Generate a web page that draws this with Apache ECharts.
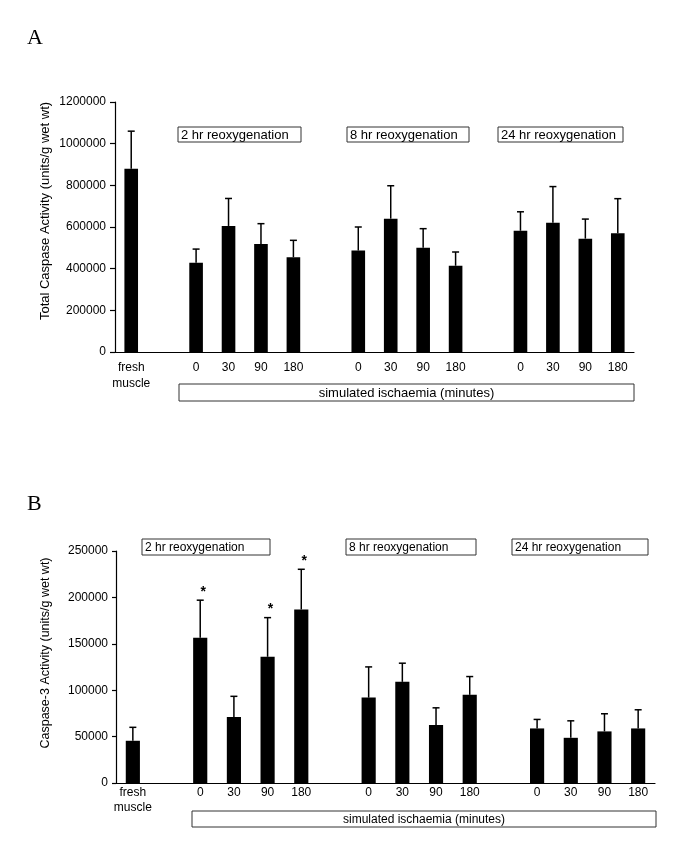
<!DOCTYPE html>
<html>
<head>
<meta charset="utf-8">
<script src="https://cdn.jsdelivr.net/npm/echarts@6/dist/echarts.min.js"></script>
<style>
html,body{margin:0;padding:0;background:#fff;}
#chart{width:685px;height:847px;}
</style>
</head>
<body>
<div id="chart"></div>
<script>
// ---- data ----
const categories = ['fresh\nmuscle', '', '0', '30', '90', '180', '', '0', '30', '90', '180', '', '0', '30', '90', '180'];
const totalCaspase = [880000, null, 428000, 605000, 518000, 455000, null, 487000, 640000, 500000, 414000, null, 582000, 620000, 544000, 570000];
const totalCaspaseErr = [180000, null, 66000, 132000, 98000, 81000, null, 113000, 158000, 92000, 66000, null, 91000, 174000, 94000, 166000];
const caspase3 = [45500, null, 156500, 71000, 136000, 187000, null, 92000, 109000, 62500, 95000, null, 58800, 48700, 55600, 58800];
const caspase3Err = [14500, null, 40500, 22400, 42200, 43300, null, 33100, 20100, 18500, 19700, null, 9700, 18300, 19000, 20100];
const caspase3Sig = [false, false, true, false, true, true, false, false, false, false, false, false, false, false, false, false];
const groupLabels = ['2 hr reoxygenation', '8 hr reoxygenation', '24 hr reoxygenation'];
const xTitle = 'simulated ischaemia (minutes)';
const yTitleA = 'Total Caspase Activity (units/g wet wt)';
const yTitleB = 'Caspase-3 Activity (units/g wet wt)';

const FONT = 'Liberation Sans, Arial, sans-serif';

function errData(means, errs, sig) {
  const out = [];
  means.forEach((m, i) => {
    if (m != null) out.push([i, m, errs[i], sig && sig[i] ? 1 : 0]);
  });
  return out;
}

function errRender(params, api) {
  const i = api.value(0), m = api.value(1), e = api.value(2), s = api.value(3);
  const p0 = api.coord([i, m]);
  const p1 = api.coord([i, m + e]);
  const children = [
    {type: 'line', shape: {x1: p0[0], y1: p0[1], x2: p1[0], y2: p1[1]}, style: {stroke: '#000', lineWidth: 1.5}},
    {type: 'line', shape: {x1: p1[0] - 3.5, y1: p1[1], x2: p1[0] + 3.5, y2: p1[1]}, style: {stroke: '#000', lineWidth: 1.5}}
  ];
  if (s) {
    children.push({type: 'text', style: {text: '*', x: p1[0] + 3, y: p1[1] - 1, align: 'center', verticalAlign: 'bottom', font: 'bold 14px ' + FONT, fill: '#000'}});
  }
  return {type: 'group', children: children};
}

const axisLineStyle = {color: '#000', width: 1.2};
const plainNum = v => String(v);

function box(x, y, w, h, text, fontSize, align) {
  return [
    {type: 'rect', shape: {x: x, y: y, width: w, height: h}, style: {fill: '#fff', stroke: '#333', lineWidth: 1}},
    {type: 'text', style: {
      text: text,
      x: align === 'center' ? x + w / 2 : x + 3,
      y: y + h / 2 + 0.5,
      align: align === 'center' ? 'center' : 'left',
      verticalAlign: 'middle',
      font: fontSize + 'px ' + FONT,
      fill: '#000'
    }}
  ];
}

const chart = echarts.init(document.getElementById('chart'), null, {renderer: 'canvas'});
const option = {
  animation: false,
  backgroundColor: '#fff',
  textStyle: {fontFamily: FONT},
  grid: [
    {left: 115, right: 51, top: 102, bottom: 495},
    {left: 116, right: 30, top: 551, bottom: 64}
  ],
  xAxis: [
    {type: 'category', gridIndex: 0, data: categories,
     axisLine: {lineStyle: axisLineStyle},
     axisTick: {length: 5, lineStyle: axisLineStyle},
     axisLabel: {interval: 0, color: '#000', fontSize: 12, margin: 8, lineHeight: 16, fontFamily: FONT}},
    {type: 'category', gridIndex: 1, data: categories,
     axisLine: {lineStyle: axisLineStyle},
     axisTick: {length: 4, lineStyle: axisLineStyle},
     axisLabel: {interval: 0, color: '#000', fontSize: 12, margin: 2, lineHeight: 15, fontFamily: FONT}}
  ],
  yAxis: [
    {type: 'value', gridIndex: 0, min: 0, max: 1200000, interval: 200000,
     splitLine: {show: false},
     axisLine: {show: true, lineStyle: axisLineStyle},
     axisTick: {show: true, length: 5, lineStyle: axisLineStyle},
     axisLabel: {color: '#000', fontSize: 12, margin: 9, fontFamily: FONT, formatter: plainNum}},
    {type: 'value', gridIndex: 1, min: 0, max: 250000, interval: 50000,
     splitLine: {show: false},
     axisLine: {show: true, lineStyle: axisLineStyle},
     axisTick: {show: true, length: 4, lineStyle: axisLineStyle},
     axisLabel: {color: '#000', fontSize: 12, margin: 8, fontFamily: FONT, formatter: plainNum}}
  ],
  series: [
    {type: 'bar', xAxisIndex: 0, yAxisIndex: 0, data: totalCaspase, barWidth: '42%', itemStyle: {color: '#000'}},
    {type: 'custom', xAxisIndex: 0, yAxisIndex: 0, data: errData(totalCaspase, totalCaspaseErr), renderItem: errRender, z: 3},
    {type: 'bar', xAxisIndex: 1, yAxisIndex: 1, data: caspase3, barWidth: '42%', itemStyle: {color: '#000'}},
    {type: 'custom', xAxisIndex: 1, yAxisIndex: 1, data: errData(caspase3, caspase3Err, caspase3Sig), renderItem: errRender, z: 3}
  ],
  graphic: [
    {type: 'text', style: {text: 'A', x: 27, y: 27, font: '22px Liberation Serif, Times New Roman, serif', fill: '#000'}},
    {type: 'text', style: {text: 'B', x: 27, y: 493, font: '22px Liberation Serif, Times New Roman, serif', fill: '#000'}},
    {type: 'text', rotation: Math.PI / 2, x: 45, y: 211,
     style: {text: yTitleA, x: 0, y: 0, align: 'center', verticalAlign: 'middle', font: '13px ' + FONT, fill: '#000'}},
    {type: 'text', rotation: Math.PI / 2, x: 46, y: 653,
     style: {text: yTitleB, x: 0, y: 0, align: 'center', verticalAlign: 'middle', font: '12.5px ' + FONT, fill: '#000'}},
    ...box(178, 127, 123, 15, groupLabels[0], 13, 'left'),
    ...box(347, 127, 122, 15, groupLabels[1], 13, 'left'),
    ...box(498, 127, 125, 15, groupLabels[2], 13, 'left'),
    ...box(179, 384, 455, 17, xTitle, 13, 'center'),
    ...box(142, 539, 128, 16, groupLabels[0], 12, 'left'),
    ...box(346, 539, 130, 16, groupLabels[1], 12, 'left'),
    ...box(512, 539, 136, 16, groupLabels[2], 12, 'left'),
    ...box(192, 811, 464, 16, xTitle, 12, 'center')
  ]
};
chart.setOption(option);
</script>
</body>
</html>
